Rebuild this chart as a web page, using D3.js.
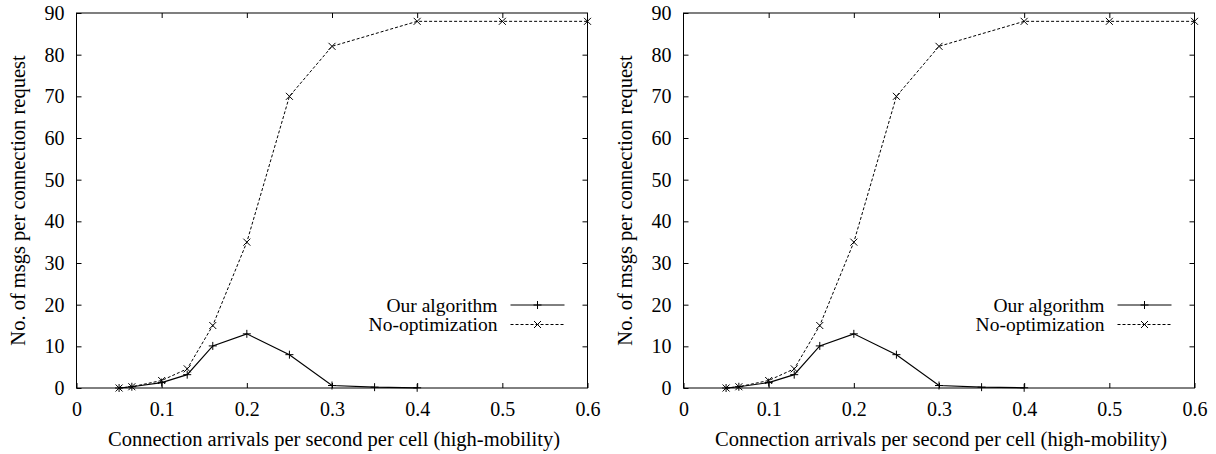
<!DOCTYPE html>
<html>
<head>
<meta charset="utf-8">
<script src="https://cdn.jsdelivr.net/npm/d3@7"></script>
<style>
  body { margin: 0; background: #fff; }
  svg { display: block; }
</style>
</head>
<body>
<svg id="chart"></svg>
<script>
const containerWidth = 1216;
const containerHeight = 454;
const serif = '"Liberation Serif"';

// data
const xOurs  = [0.05, 0.065, 0.1, 0.13, 0.16, 0.2, 0.25, 0.3, 0.35, 0.4];
const yOurs  = [0, 0.3, 1.3, 3.2, 10.1, 13, 8, 0.6, 0.2, 0.05];
const xNoOpt = [0.05, 0.065, 0.1, 0.13, 0.16, 0.2, 0.25, 0.3, 0.4, 0.5, 0.6];
const yNoOpt = [0, 0.3, 1.8, 4.6, 15, 35, 70, 82, 88, 88, 88];
const xTicks = [0, 0.1, 0.2, 0.3, 0.4, 0.5, 0.6];
const yTicks = [0, 10, 20, 30, 40, 50, 60, 70, 80, 90];
const seriesNames = ["Our algorithm", "No-optimization"];

const xLabel = "Connection arrivals per second per cell (high-mobility)";
const yLabel = "No. of msgs per connection request";

const panelLefts = [76.5, 683.5];
const margin = {top: 13, bottom: 66};
const chartWidth = 511;
const chartHeight = containerHeight - margin.top - margin.bottom;

const svg = d3.select("#chart")
  .attr("width", containerWidth)
  .attr("height", containerHeight)
  .style("font-family", serif);

const xScale = d3.scaleLinear().domain([0, 0.6]).range([0, chartWidth]);
const yScale = d3.scaleLinear().domain([0, 90]).range([chartHeight, 0]);

const oursData  = xOurs.map((x, i) => ({x, y: yOurs[i]}));
const noOptData = xNoOpt.map((x, i) => ({x, y: yNoOpt[i]}));

const line = d3.line().x(d => xScale(d.x)).y(d => yScale(d.y));

function plusPath(cx, cy, s) {
  return `M${cx - s},${cy}H${cx + s}M${cx},${cy - s}V${cy + s}`;
}
function crossPath(cx, cy, s) {
  return `M${cx - s},${cy - s}L${cx + s},${cy + s}M${cx - s},${cy + s}L${cx + s},${cy - s}`;
}

function drawPanel(left) {
  const g = svg.append("g").attr("transform", `translate(${left},${margin.top})`);

  // frame
  g.append("rect")
    .attr("width", chartWidth).attr("height", chartHeight)
    .attr("fill", "none").attr("stroke", "#000").attr("stroke-width", 1);

  // axes with inward ticks
  const fmtX = d => d === 0 ? "0" : d3.format(".1f")(d);
  g.append("g")
    .attr("transform", `translate(0,${chartHeight})`)
    .call(d3.axisBottom(xScale).tickValues(xTicks).tickFormat(fmtX).tickSizeInner(-5).tickSizeOuter(0).tickPadding(14))
    .call(a => a.select(".domain").remove());
  g.append("g")
    .call(d3.axisTop(xScale).tickValues(xTicks.slice(1, -1)).tickFormat("").tickSizeInner(-5).tickSizeOuter(0))
    .call(a => a.select(".domain").remove());
  g.append("g")
    .call(d3.axisLeft(yScale).tickValues(yTicks).tickSizeInner(-5).tickSizeOuter(0).tickPadding(12))
    .call(a => a.select(".domain").remove());
  g.append("g")
    .attr("transform", `translate(${chartWidth},0)`)
    .call(d3.axisRight(yScale).tickValues(yTicks.slice(1, -1)).tickFormat("").tickSizeInner(-5).tickSizeOuter(0))
    .call(a => a.select(".domain").remove());
  g.selectAll("g").attr("font-family", null).attr("font-size", null);
  g.selectAll(".tick line").attr("stroke", "#000");
  g.selectAll(".tick text")
    .attr("fill", "#000")
    .style("font-family", serif)
    .style("font-size", "20px");

  // axis titles
  g.append("text")
    .attr("x", chartWidth / 2 + 2).attr("y", chartHeight + 58)
    .attr("text-anchor", "middle")
    .style("font-family", serif).style("font-size", "20.5px")
    .text(xLabel);
  g.append("text")
    .attr("transform", `translate(-52,${chartHeight / 2}) rotate(-90)`)
    .attr("text-anchor", "middle")
    .style("font-family", serif).style("font-size", "20.5px")
    .text(yLabel);

  // series
  g.append("path").datum(noOptData)
    .attr("d", line).attr("fill", "none").attr("stroke", "#000")
    .attr("stroke-width", 1).attr("stroke-dasharray", "3,2");
  g.append("path").datum(oursData)
    .attr("d", line).attr("fill", "none").attr("stroke", "#000")
    .attr("stroke-width", 1.2);

  g.append("g").selectAll("path").data(oursData).join("path")
    .attr("d", d => plusPath(xScale(d.x), yScale(d.y), 4))
    .attr("stroke", "#000").attr("stroke-width", 1);
  g.append("g").selectAll("path").data(noOptData).join("path")
    .attr("d", d => crossPath(xScale(d.x), yScale(d.y), 3.5))
    .attr("stroke", "#000").attr("stroke-width", 1);

  // legend
  const legend = g.append("g").attr("transform", `translate(${chartWidth - 77},${chartHeight - 83})`);
  seriesNames.forEach((name, i) => {
    const row = legend.append("g").attr("transform", `translate(0,${i * 19.5})`);
    row.append("text").attr("x", -13).attr("y", 6.5)
      .attr("text-anchor", "end")
      .style("font-family", serif).style("font-size", "19.5px")
      .text(name);
    row.append("line").attr("x1", 0).attr("x2", 54).attr("y1", 0).attr("y2", 0)
      .attr("stroke", "#000").attr("stroke-width", 1)
      .attr("stroke-dasharray", i === 1 ? "3,2" : null);
    row.append("path")
      .attr("d", i === 0 ? plusPath(27, 0, 4) : crossPath(27, 0, 3.5))
      .attr("stroke", "#000").attr("stroke-width", 1);
  });
}

panelLefts.forEach(drawPanel);
</script>
</body>
</html>
